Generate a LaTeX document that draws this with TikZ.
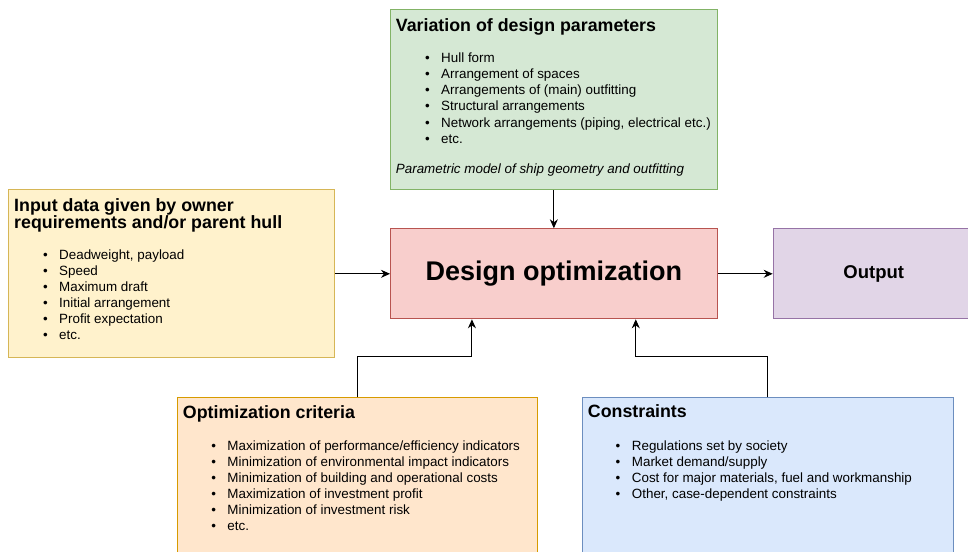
\documentclass[tikz,border=0pt]{standalone}
\usepackage{fontspec}
\setmainfont{Liberation Sans}
\usetikzlibrary{arrows.meta,calc}

\definecolor{greenfill}{HTML}{D5E8D4}\definecolor{greenline}{HTML}{82B366}
\definecolor{yellowfill}{HTML}{FFF2CC}\definecolor{yellowline}{HTML}{D6B656}
\definecolor{redfill}{HTML}{F8CECC}\definecolor{redline}{HTML}{B85450}
\definecolor{purplefill}{HTML}{E1D5E7}\definecolor{purpleline}{HTML}{9673A6}
\definecolor{orangefill}{HTML}{FFE6CC}\definecolor{orangeline}{HTML}{D79B00}
\definecolor{bluefill}{HTML}{DAE8FC}\definecolor{blueline}{HTML}{6C8EBF}

% bullet hung to the left of each list entry
\newcommand{\itembullet}{\llap{\textbullet\hspace{11.5pt}}}

\begin{document}
\begin{tikzpicture}[x=1pt,y=-1pt,
  panel/.style={rectangle, line width=1pt, inner sep=0pt, anchor=north west},
  heading/.style={anchor=base west, inner sep=0pt, font=\fontsize{17.8}{17.8}\selectfont\bfseries},
  item/.style={anchor=base west, inner sep=0pt, font=\fontsize{13.4}{16}\selectfont},
  link/.style={line width=1pt, -{Stealth[length=9pt,width=8pt]}}]

\clip (0,0) rectangle (968,551);
\fill[white] (0,0) rectangle (968,551);

% boxes
\node[panel, fill=greenfill, draw=greenline, minimum width=326.7pt, minimum height=180.3pt] (vary) at (390,9) {};
\node[panel, fill=yellowfill, draw=yellowline, minimum width=326pt, minimum height=168.3pt] (input) at (8.3,189) {};
\node[panel, fill=redfill, draw=redline, minimum width=326.7pt, minimum height=90pt,
      font=\fontsize{27}{27}\selectfont\bfseries] (core) at (390,228.3) {Design optimization};
\node[panel, fill=purplefill, draw=purpleline, minimum width=201pt, minimum height=90pt,
      font=\fontsize{18.5}{18.5}\selectfont\bfseries] (output) at (772.7,228.3) {Output};
\node[panel, fill=orangefill, draw=orangeline, minimum width=360pt, minimum height=170pt] (crit) at (176.7,397.3) {};
\node[panel, fill=bluefill, draw=blueline, minimum width=371pt, minimum height=170pt] (cons) at (581.7,397.3) {};

% design parameters
\node[heading] (vary-title) at (395.7,31.7) {Variation of design parameters};
\foreach \txt [count=\i] in {Hull form, Arrangement of spaces, Arrangements of (main) outfitting,
    Structural arrangements, {Network arrangements (piping, electrical etc.)}, etc.}
  \node[item] (vary-\i) at (441,{62.3+16.2*(\i-1)}) {\itembullet\txt};
\node[item, font=\fontsize{13.4}{16}\selectfont\itshape] (vary-note) at (395.7,173.3)
  {Parametric model of ship geometry and outfitting};

% input data
\node[heading] (input-title1) at (14,211.7) {Input data given by owner};
\node[heading] (input-title2) at (14,228) {requirements and/or parent hull};
\foreach \txt [count=\i] in {{Deadweight, payload}, Speed, Maximum draft, Initial arrangement,
    Profit expectation, etc.}
  \node[item] (input-\i) at (59,{259+16.1*(\i-1)}) {\itembullet\txt};

% optimization criteria
\node[heading] (crit-title) at (182.7,418.3) {Optimization criteria};
\foreach \txt [count=\i] in {Maximization of performance/efficiency indicators,
    Minimization of environmental impact indicators, Minimization of building and operational costs,
    Maximization of investment profit, Minimization of investment risk, etc.}
  \node[item] (crit-\i) at (227.3,{450+16*(\i-1)}) {\itembullet\txt};

% constraints
\node[heading] (cons-title) at (587.7,417.7) {Constraints};
\foreach \txt [count=\i] in {Regulations set by society, Market demand/supply,
    {Cost for major materials, fuel and workmanship}, {Other, case-dependent constraints}}
  \node[item] (cons-\i) at (631.7,{450+16*(\i-1)}) {\itembullet\txt};

% connectors
\draw[link] (vary.south) -- (core.north);
\draw[link] (input.east |- core.west) -- (core.west);
\draw[link] (core.east) -- (output.west);
\draw[link] (crit.north) -- ++(0,-40.6) -| ($(core.south west)!0.25!(core.south east)$);
\draw[link] (cons.north) -- ++(0,-40.6) -| ($(core.south west)!0.75!(core.south east)$);

\end{tikzpicture}
\end{document}
